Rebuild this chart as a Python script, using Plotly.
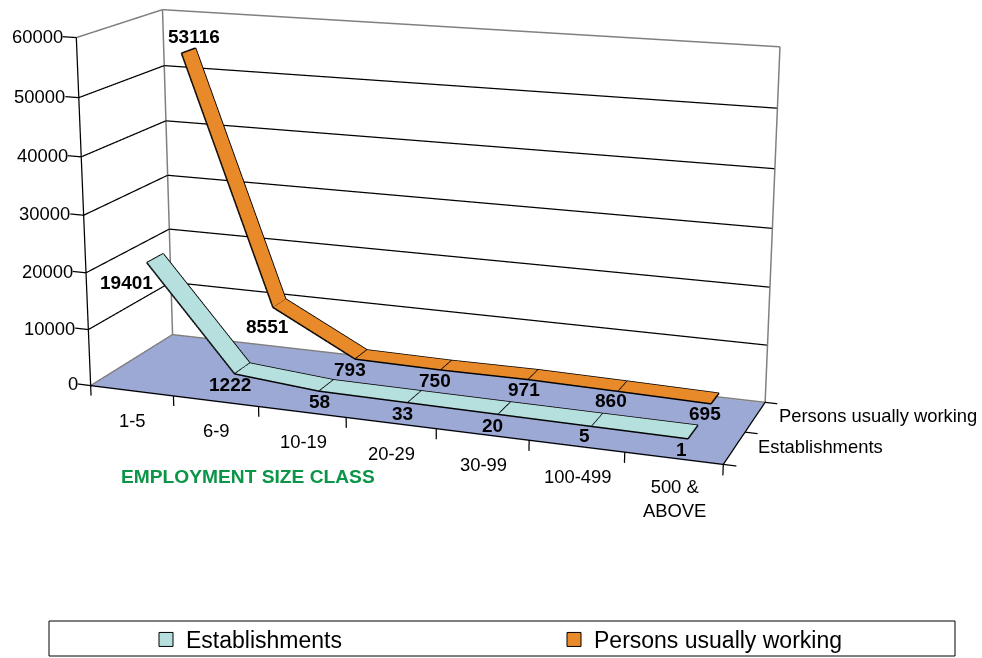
import numpy as np
import plotly.graph_objects as go

categories = ["1-5", "6-9", "10-19", "20-29", "30-99", "100-499", "500 &<br>ABOVE"]
series_names = ["Establishments", "Persons usually working"]
establishments = [19401, 1222, 58, 33, 20, 5, 1]
persons = [53116, 8551, 793, 750, 971, 860, 695]
z_ticks = [0, 10000, 20000, 30000, 40000, 50000, 60000]

W, H = 982, 658                 # visible page
WW, HH, OX, OY = 1130, 1839, 139, 674   # scene canvas: long lens needs a large canvas, page is offset onto it
XR = [-1.0, 7.0]; YR = [-0.5, 1.5]; ZR = [-5000.0, 62000.0]
ASPECT = dict(x=1.6, y=0.7937, z=0.85388)
EYE = dict(x=1.5691, y=-4.2494, z=1.1825)
PX = lambda X: (X+OX)/WW
PY = lambda Y: 1-(Y+OY)/HH

_lo = np.array([XR[0], YR[0], ZR[0]]); _hi = np.array([XR[1], YR[1], ZR[1]])
_a = np.array([ASPECT["x"], ASPECT["y"], ASPECT["z"]]); _e = np.array([EYE["x"], EYE["y"], EYE["z"]])
def behind(p, k=1.03):
    # same place on screen, slightly deeper: keeps the back wall behind the ribbons
    m = (np.array(p, float)-0.5*(_lo+_hi))/(_hi-_lo)*_a
    m = _e+(m-_e)*k
    return tuple(m/_a*(_hi-_lo)+0.5*(_lo+_hi))

def line(lines, color, width):
    x=[];y=[];z=[]
    for a,b in lines:
        x+=[a[0],b[0],None]; y+=[a[1],b[1],None]; z+=[a[2],b[2],None]
    return go.Scatter3d(x=x,y=y,z=z,mode="lines",line=dict(color=color,width=width),hoverinfo="skip",showlegend=False)

FLAT = dict(ambient=1,diffuse=0,specular=0,fresnel=0)
L,R = -.5,6.5
TOP = z_ticks[-1]
FZ = -150
B = behind
fig = go.Figure()
fig.add_trace(go.Mesh3d(x=[L,R,R,L],y=[0,0,1,1],z=[FZ]*4,i=[0,0],j=[1,2],k=[2,3],color="#9DA9D5",
    lighting=FLAT,flatshading=True,hoverinfo="skip"))
fig.add_trace(line([((L,0,t),B((L,1,t))) for t in z_ticks[1:-1]]+[(B((L,1,t)),B((R,1,t))) for t in z_ticks[1:-1]],"#000000",2.5))
fig.add_trace(line([((L,0,TOP),B((L,1,TOP))),(B((L,1,TOP)),B((R,1,TOP))),(B((L,1,0)),B((L,1,TOP))),(B((R,1,0)),B((R,1,TOP))),
                    ((L,0,0),B((L,1,0))),(B((L,1,0)),B((R,1,0)))],"#808080",3))
fig.add_trace(line([((L,0,0),(L,0,TOP)),((L,0,0),(R,0,0)),((R,0,0),(R,1,0))]
    +[((L,0,t),(L-.16,0,t)) for t in z_ticks]
    +[((L+k,0,0),(L+k,0,-1800)) for k in range(8)]
    +[((R,v,0),(R+.13,v,0)) for v in (0,.5,1)],"#000000",2.5))

# where each category's point sits along the floor (index units)
xplace_e = [-0.14, 0.90, 1.91, 2.94, 3.96, 4.98, 6.0]
xplace_p = [-0.17, 0.90, 1.91, 2.94, 3.96, 4.98, 6.0]
def ribbon(vals, X, yf, yb, color):
    n=len(vals); idx=list(range(n))
    YF=[yf[0]+yf[1]*i for i in idx]; YB=[yb[0]+yb[1]*i for i in idx]
    fi=[k for k in range(n-1)]*2
    fj=[k+1 for k in range(n-1)]+[k+1+n for k in range(n-1)]
    fk=[k+1+n for k in range(n-1)]+[k+n for k in range(n-1)]
    fig.add_trace(go.Mesh3d(x=X+X,y=YF+YB,z=list(vals)*2,i=fi,j=fj,k=fk,color=color,lighting=FLAT,flatshading=True,hoverinfo="skip"))
    ls=[((X[k],YF[k],vals[k]),(X[k+1],YF[k+1],vals[k+1])) for k in idx[:-1]]+[((X[k],YB[k],vals[k]),(X[k+1],YB[k+1],vals[k+1])) for k in idx[:-1]]+[((X[k],YF[k],vals[k]),(X[k],YB[k],vals[k])) for k in idx]
    fig.add_trace(line(ls,"#000000",3))
    return X,YF
Ee = ribbon(establishments,xplace_e,(.36,-.010),(.56,-.007),"#B5E0DE")
Pp = ribbon(persons,xplace_p,(.89,-.013),(1.07,-.012),"#E98A2A")

for nm,col in zip(series_names,["#B5E0DE","#E98A2A"]):
    fig.add_trace(go.Scatter3d(x=[None],y=[None],z=[None],mode="markers",name=nm,
        marker=dict(symbol="square",size=14,color=col,line=dict(color="#000",width=1))))

ann=[]
def A(x,y,z,t,dx=0,dy=0,size=18.4,bold=False,xa="center",ya="middle"):
    ann.append(dict(x=x,y=y,z=z,text=(f"<b>{t}</b>" if bold else t),showarrow=False,xshift=dx,yshift=-dy,xanchor=xa,yanchor=ya,
                    font=dict(family="Liberation Sans",size=size,color="#000")))
eo=[(-20,20),(-5,11),(0,10),(-5,11),(-6,11),(-7,9),(-6,11)]
po=[(13,-17),(-5,19),(-5,10),(-6,10),(-4,10),(-7,9),(-6,10)]
for k,(v,o) in enumerate(zip(establishments,eo)): A(Ee[0][k],Ee[1][k],v,str(v),o[0],o[1],size=19,bold=True)
for k,(v,o) in enumerate(zip(persons,po)): A(Pp[0][k],Pp[1][k],v,str(v),o[0],o[1],size=19,bold=True)
for t in z_ticks: A(L-.16,0,t,str(t),2,0,xa="right")
cat_dy=[17,17,17,18,18,18,16]
for k,c in enumerate(categories): A(k,0,0,c,1,cat_dy[k],ya="top")
A(R,.75,0,series_names[1],22,-1,xa="left")
A(R,.25,0,series_names[0],22,-1,xa="left")

fig.update_layout(width=WW,height=HH,margin=dict(l=0,r=0,t=0,b=0),paper_bgcolor="white",
    scene=dict(domain=dict(x=[0,1],y=[0,1]),
        xaxis=dict(visible=False,range=XR),yaxis=dict(visible=False,range=YR),zaxis=dict(visible=False,range=ZR),
        aspectmode="manual",aspectratio=ASPECT,
        camera=dict(eye=EYE,center=dict(x=0.0196,y=-0.0413,z=-0.0205),up=dict(x=0.0007,y=0.0023,z=1),
                    projection=dict(type="perspective")),annotations=ann),
    legend=dict(orientation="h",x=PX(146),xanchor="left",y=PY(618),yanchor="top",entrywidth=363,entrywidthmode="pixels",itemwidth=30,
        font=dict(family="Liberation Sans",size=23,color="#000"),bgcolor="rgba(0,0,0,0)",borderwidth=0),
    shapes=[dict(type="rect",xref="paper",yref="paper",x0=PX(49),x1=PX(955),y0=PY(656),y1=PY(621),line=dict(color="#000",width=1))],
    annotations=[dict(xref="paper",yref="paper",x=PX(248),y=PY(476),xanchor="center",yanchor="middle",text="<b>EMPLOYMENT SIZE CLASS</b>",showarrow=False,
        font=dict(family="Liberation Sans",size=19.2,color="#0A9548"))])
fig.write_html("out.html",config=dict(displayModeBar=False),
    post_script=f"document.documentElement.style.overflow='hidden';document.body.style.overflow='hidden';document.body.style.margin='{-OY}px 0 0 {-OX}px';")
